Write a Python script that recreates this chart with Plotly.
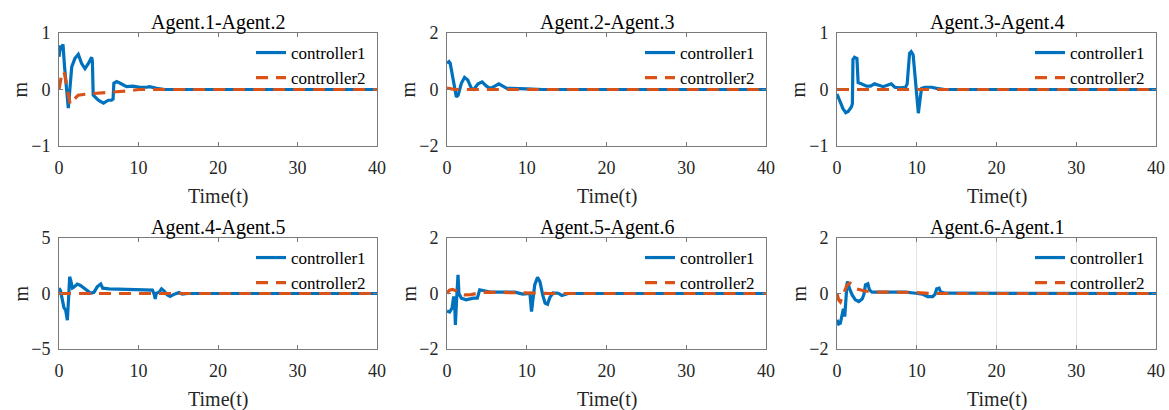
import plotly.graph_objects as go

# ---------------- data ----------------
titles = ["Agent.1-Agent.2", "Agent.2-Agent.3", "Agent.3-Agent.4",
          "Agent.4-Agent.5", "Agent.5-Agent.6", "Agent.6-Agent.1"]
series_names = ["controller1", "controller2"]
x_label = "Time(t)"
y_label = "m"
x_ticks = [0, 10, 20, 30, 40]

t1_c1 = [0, 0.2, 0.3, 0.5, 0.7, 1.17, 1.6, 2.0, 2.43, 2.85, 3.27, 3.7, 4.1, 4.2, 4.3, 4.95, 5.6, 6.2, 6.6, 6.8, 6.9, 7.25, 7.7, 8.5, 9.3, 10.2, 11.0, 11.4, 12.3, 13.3, 20, 40]
y1_c1 = [0.58, 0.78, 0.70, 0.80, 0.40, -0.33, 0.40, 0.55, 0.62, 0.46, 0.37, 0.46, 0.57, 0.50, -0.10, -0.19, -0.24, -0.19, -0.19, -0.17, 0.11, 0.14, 0.11, 0.05, 0.06, 0.04, 0.04, 0.05, 0.02, 0.0, 0, 0]
t1_c2 = [0, 0.15, 0.4, 0.7, 1.1, 1.4, 1.8, 2.4, 3.5, 4.9, 7.2, 9, 10, 40]
y1_c2 = [0, 0.15, 0.32, 0.28, -0.05, -0.26, -0.19, -0.10, -0.08, -0.06, -0.04, -0.02, 0, 0]

t2_c1 = [0, 0.25, 0.4, 0.75, 1.17, 1.4, 1.8, 2.2, 2.6, 3.06, 3.35, 3.9, 4.4, 4.95, 5.4, 6.0, 6.5, 7.0, 7.5, 8.1, 9.0, 10, 12, 40]
y2_c1 = [0.93, 0.99, 0.93, 0.34, -0.26, -0.20, 0.22, 0.43, 0.34, 0.04, 0.0, 0.20, 0.27, 0.12, 0.04, 0.12, 0.20, 0.12, 0.04, 0.04, 0.04, 0.02, 0, 0]
t2_c2 = [0, 0.5, 1.0, 40]
y2_c2 = [0.05, 0.03, 0, 0]

t3_c1 = [0, 0.33, 0.75, 1.1, 1.4, 1.8, 1.93, 2.0, 2.2, 2.5, 2.65, 3.05, 3.7, 4.2, 4.7, 5.15, 5.8, 6.4, 6.8, 7.25, 7.9, 8.6, 8.8, 9.1, 9.3, 9.55, 9.76, 9.97, 10.2, 10.4, 10.6, 11.0, 11.85, 12.5, 13.5, 40]
y3_c1 = [-0.08, -0.19, -0.34, -0.41, -0.39, -0.31, -0.25, 0.53, 0.57, 0.55, 0.12, 0.10, 0.06, 0.06, 0.10, 0.08, 0.05, 0.08, 0.10, 0.04, 0.03, 0.04, 0.10, 0.64, 0.67, 0.61, 0.29, -0.07, -0.42, -0.19, 0.02, 0.04, 0.04, 0.02, 0.0, 0]
t3_c2 = [0, 40]
y3_c2 = [0, 0]

t4_c1 = [0, 0.2, 0.42, 0.63, 0.84, 1.05, 1.2, 1.34, 1.47, 1.68, 1.9, 2.3, 2.7, 3.36, 4.0, 4.4, 4.8, 5.25, 5.5, 6.3, 8.4, 10, 11.75, 12.0, 12.1, 12.25, 12.6, 12.9, 13.2, 13.6, 13.98, 14.5, 15.1, 15.5, 16.2, 40]
y4_c1 = [0.48, 0.24, -0.57, -1.3, -1.5, -2.4, -0.5, 1.5, 1.2, 0.5, 0.6, 0.85, 0.72, 0.33, 0.03, 0.10, 0.60, 0.85, 0.48, 0.42, 0.39, 0.33, 0.30, -0.12, -0.50, 0.03, 0.12, 0.42, 0.24, -0.12, -0.27, -0.06, 0.09, -0.06, 0, 0]
t4_c2 = [0, 40]
y4_c2 = [0, 0]

t5_c1 = [0, 0.33, 0.63, 0.84, 0.96, 1.05, 1.17, 1.38, 1.5, 1.8, 2.4, 3.3, 3.8, 3.9, 4.1, 4.7, 5.4, 6.2, 7.2, 8.5, 9.5, 10.2, 10.4, 10.6, 10.8, 11.0, 11.35, 11.65, 12.0, 12.3, 12.6, 12.9, 13.3, 13.95, 14.4, 14.8, 15.2, 40]
y5_c1 = [-0.63, -0.67, -0.53, -0.11, -0.30, -1.13, -0.41, 0.67, 0.0, -0.17, -0.23, -0.17, -0.17, -0.02, 0.13, 0.10, 0.05, 0.05, 0.05, 0.05, -0.02, 0.01, 0.0, -0.65, -0.17, 0.31, 0.58, 0.43, -0.05, -0.35, -0.39, -0.14, 0.02, 0.01, -0.07, -0.02, 0, 0]
t5_c2 = [0, 0.3, 0.7, 1.1, 1.6, 2.2, 3.0, 4.0, 5.0, 7.0, 9.0, 11, 13, 40]
y5_c2 = [0, 0.12, 0.15, 0.10, 0.0, -0.05, -0.04, 0.02, 0.05, 0.04, 0.03, 0.01, 0, 0]

t6_c1 = [0, 0.21, 0.42, 0.63, 0.8, 0.97, 1.05, 1.26, 1.34, 1.55, 1.9, 2.3, 2.73, 3.15, 3.36, 3.57, 3.87, 4.07, 4.4, 5.25, 7.35, 8.6, 9.9, 10.7, 11.35, 12.0, 12.3, 12.5, 12.8, 13.0, 13.65, 16.2, 20, 40]
y6_c1 = [-0.95, -1.10, -1.07, -0.77, -0.55, -0.83, -0.41, 0.37, 0.43, 0.19, -0.05, -0.23, -0.29, -0.20, -0.05, 0.31, 0.35, 0.13, 0.05, 0.05, 0.05, 0.05, 0.01, -0.02, -0.11, -0.11, -0.02, 0.17, 0.19, 0.05, 0.01, 0.01, 0, 0]
t6_c2 = [0, 0.21, 0.42, 0.84, 1.26, 1.68, 2.1, 2.4, 3.36, 4.0, 5.25, 6.9, 9.45, 12, 40]
y6_c2 = [0, -0.23, -0.30, 0, 0.31, 0.37, 0.25, 0.17, 0.10, 0.07, 0.05, 0.05, 0.04, 0, 0]

y_limits = [1, 2, 1, 5, 2, 2]

panels = [
    (t1_c1, y1_c1, t1_c2, y1_c2),
    (t2_c1, y2_c1, t2_c2, y2_c2),
    (t3_c1, y3_c1, t3_c2, y3_c2),
    (t4_c1, y4_c1, t4_c2, y4_c2),
    (t5_c1, y5_c1, t5_c2, y5_c2),
    (t6_c1, y6_c1, t6_c2, y6_c2),
]

# ---------------- layout ----------------
W, H = 1169, 410
FONT = "Liberation Serif, Times New Roman, serif"
BLUE = "#0072BD"
ORANGE = "#D95319"
AXC = "#7a7a7a"
TXT = "#262626"

col_px = [(59, 377), (447, 766), (837, 1156)]
row_px = [(33, 146), (238, 349)]

fig = go.Figure()
layout = dict(
    template="none",
    width=W, height=H,
    margin=dict(l=0, r=0, t=0, b=0, pad=0),
    paper_bgcolor="white", plot_bgcolor="white",
    font=dict(family=FONT, size=18, color=TXT),
    annotations=[],
    showlegend=True,
)

for i, (tc1, yc1, tc2, yc2) in enumerate(panels):
    r, c = divmod(i, 3)
    n = "" if i == 0 else str(i + 1)
    lg = "legend" if i == 0 else f"legend{i + 1}"
    fig.add_trace(go.Scatter(x=tc1, y=yc1, mode="lines", name=series_names[0],
                             line=dict(color=BLUE, width=3.2),
                             xaxis="x" + n, yaxis="y" + n, legend=lg))
    fig.add_trace(go.Scatter(x=tc2, y=yc2, mode="lines", name=series_names[1],
                             line=dict(color=ORANGE, width=3.2, dash="12px,8px"),
                             xaxis="x" + n, yaxis="y" + n, legend=lg))
    x0, x1 = col_px[c]
    yt, yb = row_px[r]
    lim = y_limits[i]
    common = dict(showline=True, mirror="ticks", linecolor=AXC, linewidth=1,
                  ticks="inside", ticklen=4, tickcolor=AXC, zeroline=False,
                  automargin=False,
                  tickfont=dict(family=FONT, size=18, color=TXT))
    layout["xaxis" + n] = dict(
        domain=[x0 / W, x1 / W], anchor="y" + n, range=[0, 40],
        tickvals=x_ticks, showgrid=(i == 5), gridcolor="#e3e3e3", gridwidth=1,
        ticklabelstandoff=5,
        **common)
    layout["yaxis" + n] = dict(
        domain=[1 - yb / H, 1 - yt / H], anchor="x" + n, range=[-lim, lim],
        tickvals=[-lim, 0, lim], showgrid=False,
        ticklabelstandoff=4,
        **common)
    # subplot title
    layout["annotations"].append(dict(
        text=titles[i], xref="paper", yref="paper",
        x=(x0 + x1) / 2 / W, y=1 - (yt - 11) / H, xanchor="center", yanchor="middle",
        showarrow=False, font=dict(family=FONT, size=20, color="black")))
    # x axis title
    layout["annotations"].append(dict(
        text=x_label, xref="paper", yref="paper",
        x=(x0 + x1) / 2 / W, y=1 - (yb + 50) / H, xanchor="center", yanchor="middle",
        showarrow=False, font=dict(family=FONT, size=20, color=TXT)))
    # y axis title
    layout["annotations"].append(dict(
        text=y_label, xref="paper", yref="paper", textangle=-90,
        x=(x0 - 39) / W, y=1 - (yt + yb) / 2 / H, xanchor="center", yanchor="middle",
        showarrow=False, font=dict(family=FONT, size=20, color=TXT)))
    layout[lg] = dict(x=(x1 - 6) / W, y=1 - (yt + 2) / H, xanchor="right", yanchor="top",
                      bgcolor="rgba(0,0,0,0)", borderwidth=0,
                      font=dict(family=FONT, size=17, color="black"))

fig.update_layout(**layout)
fig.write_html("out.html")
